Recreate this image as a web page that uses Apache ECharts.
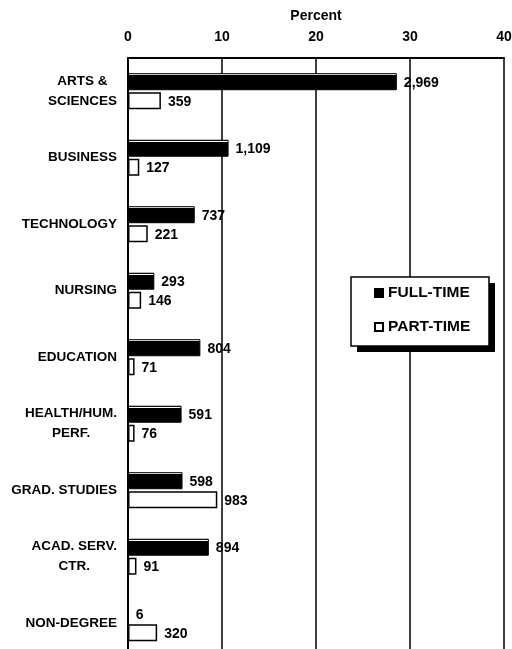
<!DOCTYPE html>
<html>
<head>
<meta charset="utf-8">
<script src="https://cdn.jsdelivr.net/npm/echarts@6/dist/echarts.min.js"></script>
<style>
html,body{margin:0;padding:0;background:#fff;}
#chart{width:512px;height:649px;}
</style>
</head>
<body>
<div id="chart"></div>
<script>
var categories = ['ARTS &\nSCIENCES', 'BUSINESS', 'TECHNOLOGY', 'NURSING', 'EDUCATION', 'HEALTH/HUM.\nPERF.', 'GRAD. STUDIES', 'ACAD. SERV.\nCTR.', 'NON-DEGREE'];
var fullTimePercent = [28.6, 10.7, 7.1, 2.8, 7.7, 5.7, 5.8, 8.6, 0.06];
var partTimePercent = [3.5, 1.2, 2.1, 1.4, 0.7, 0.7, 9.5, 0.9, 3.1];
var fullTimeCount = [2969, 1109, 737, 293, 804, 591, 598, 894, 6];
var partTimeCount = [359, 127, 221, 146, 71, 76, 983, 91, 320];
var xTicks = [0, 10, 20, 30, 40];

var FONT = '"Liberation Sans", Arial, sans-serif';
function fmt(n){ return n.toLocaleString('en-US'); }

var blackFill = new echarts.graphic.LinearGradient(0, 0, 0, 1, [
  {offset: 0, color: '#000'}, {offset: 0.07, color: '#000'},
  {offset: 0.07, color: '#fff'}, {offset: 0.13, color: '#fff'},
  {offset: 0.13, color: '#000'}, {offset: 1, color: '#000'}
]);

var chart = echarts.init(document.getElementById('chart'), null, {renderer: 'canvas'});
chart.setOption({
  animation: false,
  backgroundColor: '#fff',
  grid: {left: 128, right: 8, top: 58, height: 598.5, containLabel: false, outerBoundsMode: 'none'},
  xAxis: {
    type: 'value', position: 'top', min: xTicks[0], max: xTicks[xTicks.length - 1], interval: 10,
    name: 'Percent', nameLocation: 'middle', nameGap: 35,
    nameTextStyle: {fontFamily: FONT, fontWeight: 'bold', fontSize: 14, color: '#000'},
    axisLine: {show: true, lineStyle: {color: '#000', width: 2}},
    axisTick: {show: false},
    axisLabel: {fontFamily: FONT, fontWeight: 'bold', fontSize: 14, color: '#000', margin: 14},
    splitLine: {show: true, lineStyle: {color: '#000', width: 1.5}}
  },
  yAxis: {
    type: 'category', inverse: true, data: categories,
    axisLine: {show: true, lineStyle: {color: '#000', width: 2}},
    axisTick: {show: false},
    axisLabel: {
      margin: 11, color: '#000', fontFamily: FONT, fontWeight: 'bold', fontSize: 13.5,
      formatter: function (v) { return v.split('\n').map(function (s) { return '{c|' + s + '}'; }).join('\n'); },
      rich: {c: {align: 'center', fontFamily: FONT, fontWeight: 'bold', fontSize: 13.5, lineHeight: 20, color: '#000'}}
    },
    splitLine: {show: false}
  },
  legend: {
    orient: 'vertical', left: 374, top: 285, padding: 0, itemGap: 18, icon: 'rect',
    itemWidth: 8, itemHeight: 8, z: 6,
    textStyle: {fontFamily: FONT, fontWeight: 'bold', fontSize: 15.5, color: '#000', lineHeight: 16},
    data: ['FULL-TIME', 'PART-TIME']
  },
  graphic: [
    {type: 'rect', z: 5, shape: {x: 357, y: 283, width: 138, height: 69}, style: {fill: '#000'}},
    {type: 'rect', z: 5, shape: {x: 351, y: 277, width: 138, height: 69}, style: {fill: '#fff', stroke: '#000', lineWidth: 1.5}}
  ],
  series: [
    {
      name: 'FULL-TIME', type: 'bar', data: fullTimePercent, barWidth: 17, barGap: '12%',
      itemStyle: {color: blackFill, borderColor: '#000', borderWidth: 1},
      label: {show: true, position: 'right', distance: 7, offset: [0, 1], fontFamily: FONT, fontWeight: 'bold', fontSize: 14, color: '#000',
        formatter: function (p) { return fmt(fullTimeCount[p.dataIndex]); }}
    },
    {
      name: 'PART-TIME', type: 'bar', data: partTimePercent, barWidth: 17,
      itemStyle: {color: '#fff', borderColor: '#000', borderWidth: 1.5},
      label: {show: true, position: 'right', distance: 7, offset: [0, 1], fontFamily: FONT, fontWeight: 'bold', fontSize: 14, color: '#000',
        formatter: function (p) { return fmt(partTimeCount[p.dataIndex]); }}
    }
  ]
});
</script>
</body>
</html>
